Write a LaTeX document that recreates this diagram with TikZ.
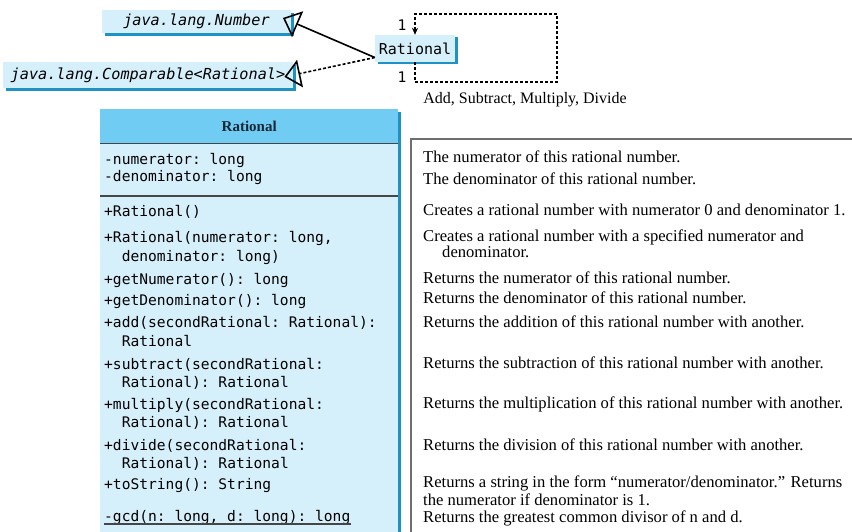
\documentclass[tikz,border=0pt]{standalone}
\usepackage{fontspec}
\setmainfont{Liberation Serif}
\setmonofont{DejaVu Sans Mono}
\usepackage{tikz}
\usetikzlibrary{positioning, arrows.meta, shadows}

\definecolor{bodyblue}{RGB}{214,240,251}
\definecolor{headblue}{RGB}{112,204,243}
\definecolor{edgeblue}{RGB}{30,146,196}
\definecolor{linegray}{RGB}{70,70,70}
\definecolor{notegray}{RGB}{110,110,110}
\definecolor{headtext}{RGB}{25,40,55}

\begin{document}
\begin{tikzpicture}[
    x=1pt, y=-1pt,
    iface/.style={rectangle, fill=bodyblue, inner sep=0pt, font=\fontsize{15.2}{18}\ttfamily\itshape,
      drop shadow={shadow xshift=3pt, shadow yshift=-3pt, fill=edgeblue, opacity=1}},
    cls/.style={rectangle, fill=bodyblue, inner sep=0pt, font=\fontsize{15}{18}\ttfamily,
      drop shadow={shadow xshift=3pt, shadow yshift=-2pt, fill=edgeblue, opacity=1}},
    hdr/.style={rectangle, fill=headblue, inner sep=0pt, text=headtext, font=\fontsize{15}{18}\selectfont\bfseries},
    member/.style={anchor=base west, inner sep=0pt, font=\fontsize{14.6}{17}\ttfamily},
    descr/.style={anchor=base west, inner sep=0pt, font=\fontsize{16.6}{18}\selectfont},
    mult/.style={inner sep=0pt, font=\fontsize{14.6}{17}\ttfamily},
    inharr/.style={line width=1.6pt, -{Triangle[open, length=16pt, width=28pt, line width=1.6pt]}, shorten >=-9pt},
    implarr/.style={inharr, dash pattern=on 3pt off 2pt},
    assoc/.style={line width=1.6pt, dash pattern=on 3pt off 2pt, -{Stealth[length=7pt, width=6pt]}},
    sep/.style={linegray, line width=1.5pt},
    notebox/.style={notegray, line width=1.5pt}
]
    \useasboundingbox (0,0) rectangle (852,532);
    \clip (0,0) rectangle (852,532);

    % top: Rational and its supertypes
    \node[iface, minimum width=189pt, minimum height=23pt] (number) at (196.5,21.5) {java.lang.Number};
    \node[iface, minimum width=290pt, minimum height=26pt] (comparable) at (148,75) {java.lang.Comparable<Rational>};
    \node[cls, minimum width=80pt, minimum height=27pt] (rational) at (415,48.5) {Rational};
    \coordinate (meet) at ([yshift=-9pt]rational.west);

    \draw[inharr] (meet) -- (number.east);
    \draw[implarr] (meet) -- (comparable.east);

    % self association
    \coordinate (loopsw) at (415,82);
    \coordinate (loopne) at (557,14);
    \draw[assoc] (rational.south) -- (loopsw) -| (loopne) -| (rational.north);
    \node[mult] (multtop) at (402,25) {1};
    \node[mult] (multbot) at (402,77) {1};
    \node[descr, anchor=center, font=\fontsize{16}{18}\selectfont] (ops) at (525,100) {Add, Subtract, Multiply, Divide};

    % class box
    \fill[bodyblue] (100,109) rectangle (398,545);
    \fill[edgeblue] (398,112) rectangle (401,545);
    \node[hdr, anchor=north west, minimum width=298pt, minimum height=34pt] (header) at (100,109) {Rational};
    \draw[sep] (header.south west) -- (header.south east);
    \draw[sep] (100,196) -- (398,196);

    \node[member] (numer) at (104,165) {-numerator: long};
    \node[member] (denom) at (104,182) {-denominator: long};
    \node[member] (ctor) at (104,216) {+Rational()};
    \node[member] (ctorargs) at (104,243) {+Rational(numerator: long,};
    \node[member] (ctorargsb) at (121.6,261) {denominator: long)};
    \node[member] (getnum) at (104,284) {+getNumerator(): long};
    \node[member] (getden) at (104,305) {+getDenominator(): long};
    \node[member] (add) at (104,327) {+add(secondRational: Rational):};
    \node[member] (addb) at (121.6,346) {Rational};
    \node[member] (sub) at (104,369) {+subtract(secondRational:};
    \node[member] (subb) at (121.6,387) {Rational): Rational};
    \node[member] (mul) at (104,409) {+multiply(secondRational:};
    \node[member] (mulb) at (121.6,427) {Rational): Rational};
    \node[member] (div) at (104,450) {+divide(secondRational:};
    \node[member] (divb) at (121.6,468) {Rational): Rational};
    \node[member] (tostr) at (104,489) {+toString(): String};
    \node[member] (gcd) at (104,521) {-gcd(n: long, d: long): long};
    \draw[linegray, line width=1.2pt] ([yshift=-3pt]gcd.base west) -- ([yshift=-3pt]gcd.base east);

    % descriptions
    \draw[notebox] (411,139) rectangle (880,560);
    \node[descr] (dnumer) at (423,163) {The numerator of this rational number.};
    \node[descr] (ddenom) at (423,185) {The denominator of this rational number.};
    \node[descr] (dctor) at (423,215) {Creates a rational number with numerator 0 and denominator 1.};
    \node[descr] (dctorargs) at (423,241) {Creates a rational number with a specified numerator and};
    \node[descr] (dctorargsb) at (442,258) {denominator.};
    \node[descr] (dgetnum) at (423,283) {Returns the numerator of this rational number.};
    \node[descr] (dgetden) at (423,303) {Returns the denominator of this rational number.};
    \node[descr] (dadd) at (423,327) {Returns the addition of this rational number with another.};
    \node[descr] (dsub) at (423,368) {Returns the subtraction of this rational number with another.};
    \node[descr] (dmul) at (423,408) {Returns the multiplication of this rational number with another.};
    \node[descr] (ddiv) at (423,450) {Returns the division of this rational number with another.};
    \node[descr] (dtostr) at (423,487) {Returns a string in the form “numerator/denominator.” Returns};
    \node[descr] (dtostrb) at (423,505) {the numerator if denominator is 1.};
    \node[descr] (dgcd) at (423,522) {Returns the greatest common divisor of n and d.};
\end{tikzpicture}
\end{document}
